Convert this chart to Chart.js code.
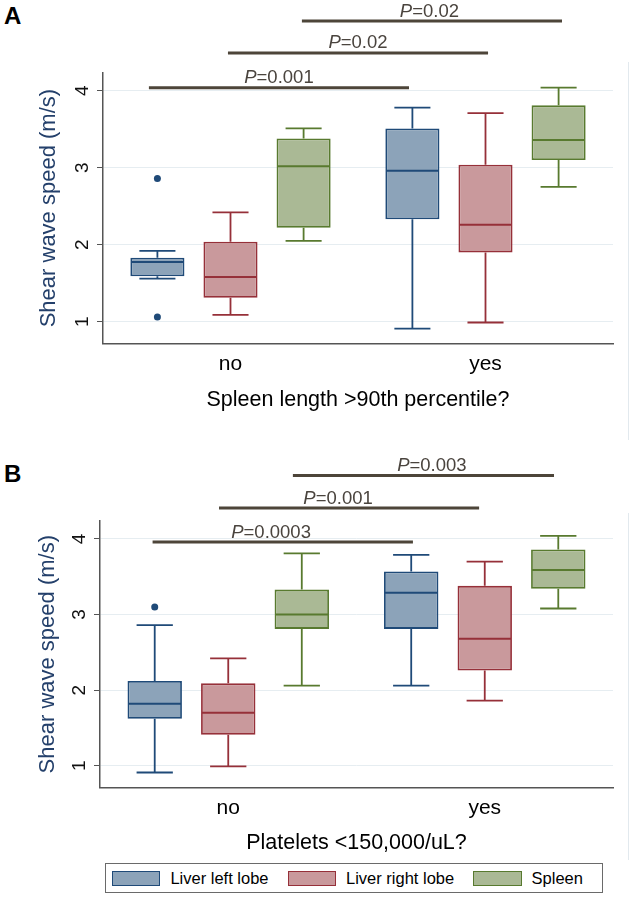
<!DOCTYPE html>
<html>
<head>
<meta charset="utf-8">
<script src="https://cdn.jsdelivr.net/npm/chart.js@4.4.0/dist/chart.umd.min.js"></script>
<style>
  body { margin: 0; background: #fff; font-family: "Liberation Sans", Arial, sans-serif; }
  .panel { position: absolute; left: 0; }
  .letter { position: absolute; left: 4px; font-size: 24px; font-weight: bold; line-height: 1; color: #000; }
  #legend { position: absolute; left: 105px; top: 863px; width: 498px; height: 30px; box-sizing: border-box;
            border: 1px solid #6a6a6a; display: flex; align-items: center; padding-left: 6px; font-size: 16.5px; color: #000; }
  #legend .sw { width: 56px; height: 15px; box-sizing: border-box; border: 1.8px solid; margin-right: 10px; }
  #legend .tx { margin-right: 19px; white-space: nowrap; }
</style>
</head>
<body>
<div class="letter" style="top:4px">A</div>
<div class="panel" style="top:0"><canvas id="chartA" width="631" height="440"></canvas></div>
<div class="letter" style="top:462px">B</div>
<div class="panel" style="top:440px"><canvas id="chartB" width="631" height="420"></canvas></div>
<div id="legend"></div>
<script>
// categories and series
const groups = ['no', 'yes'];
const seriesNames = ['Liver left lobe', 'Liver right lobe', 'Spleen'];
const yTicks = [1, 2, 3, 4];

// Panel A: spleen length >90th percentile?   [series][group]
const aLo  = [[1.56, 0.91], [1.09, 0.99], [2.05, 2.75]];
const aQ1  = [[1.59, 2.33], [1.31, 1.90], [2.22, 3.10]];
const aMed = [[1.775, 2.96], [1.58, 2.26], [3.02, 3.36]];
const aQ3  = [[1.83, 3.51], [2.04, 3.04], [3.38, 3.81]];
const aHi  = [[1.92, 3.78], [2.42, 3.71], [3.51, 4.04]];
const aOut = [[[2.86, 1.06], []], [[], []], [[], []]];
const aSigP = ['0.001', '0.02', '0.02'];
const aSigY = [4.04, 4.49, 4.905];
const aSigFrom = [-0.32, -0.01, 0.28];
const aSigTo = [0.70, 1.01, 1.30];
const aSigTextX = [0.19, 0.50, 0.78];

// Panel B: platelets <150,000/uL?
const bLo  = [[0.91, 2.06], [0.99, 1.86], [2.06, 3.08]];
const bQ1  = [[1.62, 2.81], [1.41, 2.26], [2.81, 3.34]];
const bMed = [[1.82, 3.29], [1.70, 2.68], [3.00, 3.59]];
const bQ3  = [[2.12, 3.57], [2.09, 3.38], [3.33, 3.86]];
const bHi  = [[2.86, 3.79], [2.42, 3.70], [3.81, 4.04]];
const bOut = [[[3.10], []], [[], []], [[], []]];
const bSigP = ['0.0003', '0.001', '0.003'];
const bSigY = [3.96, 4.41, 4.84];
const bSigFrom = [-0.295, -0.036, 0.252];
const bSigTo = [0.72, 0.978, 1.27];
const bSigTextX = [0.167, 0.428, 0.794];

// styles
const fills = ['#8ca3b9', '#c9999c', '#aab995'];
const lines = ['#1f4a78', '#963039', '#587a2f'];
const FONT = '"Liberation Sans", Arial, sans-serif';
Chart.defaults.font.family = FONT;

function boxDatasets(q1, q3) {
  return seriesNames.map((name, s) => ({
    label: name,
    data: groups.map((g, i) => [q1[s][i], q3[s][i]]),
    backgroundColor: fills[s],
    borderColor: lines[s],
    borderWidth: 1.8,
    borderSkipped: false,
    categoryPercentage: 0.86,
    barPercentage: 0.74
  }));
}

// whiskers, medians, outliers, rotated y labels and the P-value brackets
function extras(st) {
  return {
    id: 'extras',
    afterDatasetsDraw(chart) {
      const ctx = chart.ctx, y = chart.scales.y;
      ctx.save();
      chart.data.datasets.forEach((ds, s) => {
        chart.getDatasetMeta(s).data.forEach((bar, g) => {
          const cx = bar.x, half = bar.width / 2, cap = bar.width / 3;
          const yHi = y.getPixelForValue(st.hi[s][g]), yLo = y.getPixelForValue(st.lo[s][g]);
          ctx.strokeStyle = lines[s];
          ctx.lineWidth = 1.8;
          ctx.beginPath();
          ctx.moveTo(cx, y.getPixelForValue(st.q3[s][g])); ctx.lineTo(cx, yHi);
          ctx.moveTo(cx - cap, yHi); ctx.lineTo(cx + cap, yHi);
          ctx.moveTo(cx, y.getPixelForValue(st.q1[s][g])); ctx.lineTo(cx, yLo);
          ctx.moveTo(cx - cap, yLo); ctx.lineTo(cx + cap, yLo);
          ctx.stroke();
          const yMed = y.getPixelForValue(st.med[s][g]);
          ctx.lineWidth = 2;
          ctx.beginPath();
          ctx.moveTo(cx - half + 1, yMed); ctx.lineTo(cx + half - 1, yMed);
          ctx.stroke();
          ctx.fillStyle = lines[s];
          st.out[s][g].forEach(v => {
            ctx.beginPath();
            ctx.arc(cx, y.getPixelForValue(v), 3.5, 0, Math.PI * 2);
            ctx.fill();
          });
        });
      });
      ctx.restore();
    },
    afterDraw(chart) {
      const ctx = chart.ctx, x = chart.scales.x, y = chart.scales.y;
      ctx.save();
      // y tick labels, turned like the original
      ctx.fillStyle = '#111';
      ctx.font = '19px ' + FONT;
      ctx.textAlign = 'center';
      ctx.textBaseline = 'middle';
      y.ticks.forEach(t => {
        ctx.save();
        ctx.translate(chart.chartArea.left - 20.5, y.getPixelForValue(t.value));
        ctx.rotate(-Math.PI / 2);
        ctx.fillText(String(t.value), 0, 0);
        ctx.restore();
      });
      // faint graph-region edge on the right
      ctx.strokeStyle = '#e2e9ee';
      ctx.lineWidth = 1;
      ctx.beginPath();
      ctx.moveTo(628.5, st.edgeTop); ctx.lineTo(628.5, chart.height);
      ctx.stroke();
      st.sigP.forEach((p, i) => {
        const yy = y.getPixelForValue(st.sigY[i]);
        ctx.strokeStyle = '#4d4539';
        ctx.lineWidth = 3;
        ctx.beginPath();
        ctx.moveTo(x.getPixelForValue(st.sigFrom[i]), yy);
        ctx.lineTo(x.getPixelForValue(st.sigTo[i]), yy);
        ctx.stroke();
        const f = '18.5px ' + FONT;
        ctx.font = 'italic ' + f;
        const wP = ctx.measureText('P').width;
        ctx.font = f;
        const wR = ctx.measureText('=' + p).width;
        let tx = x.getPixelForValue(st.sigTextX[i]) - (wP + wR) / 2;
        ctx.fillStyle = '#4a443e';
        ctx.textBaseline = 'alphabetic';
        ctx.textAlign = 'left';
        ctx.font = 'italic ' + f;
        ctx.fillText('P', tx, yy - 4.5);
        ctx.font = f;
        ctx.fillText('=' + p, tx + wP, yy - 4.5);
      });
      ctx.restore();
    }
  };
}

function makeChart(id, q, sig, yMin, yMax, axisLeft, xHeight, pad, xTitle, titlePad) {
  return new Chart(document.getElementById(id), {
    type: 'bar',
    data: { labels: groups, datasets: boxDatasets(q.q1, q.q3) },
    options: {
      responsive: false,
      animation: false,
      devicePixelRatio: 1,
      layout: { padding: pad },
      plugins: { legend: { display: false }, tooltip: { enabled: false } },
      scales: {
        x: {
          grid: { display: false, drawTicks: false },
          border: { color: '#555', width: 1.5 },
          ticks: { font: { size: 21 }, color: '#000', padding: 8 },
          title: { display: true, text: xTitle, color: '#000', font: { size: 21.5 }, padding: { top: 0, bottom: 0 } },
          afterFit: s => { s.height = xHeight; }
        },
        y: {
          min: yMin,
          max: yMax,
          afterBuildTicks: s => { s.ticks = yTicks.map(v => ({ value: v })); },
          afterFit: s => { s.width = axisLeft; },
          grid: { color: '#e6edf1', lineWidth: 1, tickColor: '#555', tickLength: 6 },
          border: { color: '#555', width: 1.5 },
          ticks: { display: false },
          title: { display: true, text: 'Shear wave speed (m/s)', color: '#24406b', font: { size: 22 }, padding: { top: titlePad, bottom: 0 } }
        }
      }
    },
    plugins: [extras(Object.assign({}, q, sig))]
  });
}

makeChart('chartA',
  { lo: aLo, q1: aQ1, med: aMed, q3: aQ3, hi: aHi, out: aOut },
  { sigP: aSigP, sigY: aSigY, sigFrom: aSigFrom, sigTo: aSigTo, sigTextX: aSigTextX, edgeTop: 62 },
  0.717, 4.234, 103, 69.5, { top: 72.7, right: 18, bottom: 27, left: 0 },
  'Spleen length >90th percentile?', 36);

makeChart('chartB',
  { lo: bLo, q1: bQ1, med: bMed, q3: bQ3, hi: bHi, out: bOut },
  { sigP: bSigP, sigY: bSigY, sigFrom: bSigFrom, sigTo: bSigTo, sigTextX: bSigTextX, edgeTop: 73 },
  0.709, 4.242, 100, 68.2, { top: 80.7, right: 18, bottom: 4.1, left: 0 },
  'Platelets <150,000/uL?', 35);

// legend
const legend = document.getElementById('legend');
seriesNames.forEach((name, s) => {
  const sw = document.createElement('div');
  sw.className = 'sw';
  sw.style.background = fills[s];
  sw.style.borderColor = lines[s];
  const tx = document.createElement('div');
  tx.className = 'tx';
  tx.textContent = name;
  legend.appendChild(sw);
  legend.appendChild(tx);
});
</script>
</body>
</html>
